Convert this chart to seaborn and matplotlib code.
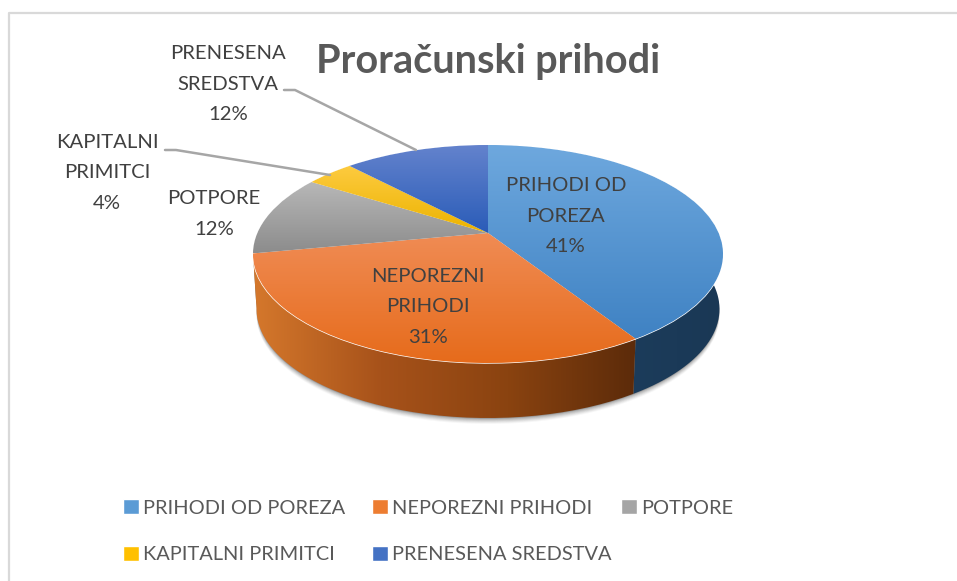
import numpy as np
import seaborn as sns
import matplotlib.pyplot as plt
from matplotlib.colors import LinearSegmentedColormap
from matplotlib.patches import Patch
from matplotlib.path import Path
from matplotlib.transforms import Affine2D, Transform

categories = ['PRIHODI OD POREZA', 'NEPOREZNI PRIHODI', 'POTPORE', 'KAPITALNI PRIMITCI', 'PRENESENA SREDSTVA']
shares = [41, 31, 12, 4, 12]
title = 'Proračunski prihodi'
slice_labels = ['PRIHODI OD\nPOREZA\n41%', 'NEPOREZNI\nPRIHODI\n31%', 'POTPORE\n12%',
                'KAPITALNI\nPRIMITCI\n4%', 'PRENESENA\nSREDSTVA\n12%']

# styling
base_colors = ['#5B9BD5', '#ED7D31', '#A5A5A5', '#FFC000', '#4472C4']
top_grads = [('#6ea8de', '#3f82c3'), ('#f08c55', '#e66b1b'), ('#b8b8b8', '#8c8c8c'),
             ('#fdcb40', '#ecb300'), ('#6483cd', '#2a5cb8')]
wall_grads = [('#1f4264', '#1a3855'), ('#d5782c', '#a7521a', '#8a4310', '#5c2b0a'),
              ('#6b6b6b', '#5a5a5a'), ('#9a7400', '#8a6800'), ('#2a4a85', '#234070')]
label_pos = [(566, 216), (428, 307), (214, 214), (107, 173), (228, 84)]
W, H = 957, 581
DEPTH = 55
FOOT = 0.985  # bottom rim is a little narrower than the top one

sns.set_theme(style='white')
plt.rcParams['font.family'] = ['Lato', 'DejaVu Sans']


class Tilt(Transform):
    # perspective of the unit pie onto the page, pixel coordinates
    input_dims = 2
    output_dims = 2
    X0, APEX, K, A, C = 488.0, 233.0, 0.1927, -60.06, 230.6

    def transform_non_affine(self, values):
        u, v = np.asarray(values).T
        d = 1 + self.K * v
        return np.column_stack([self.X0 + self.C * u / d, (self.A * v + self.APEX) / d])


tilt = Tilt()


def arc(t1, t2):
    t = np.radians(np.linspace(t1, t2, 80))
    return tilt.transform_non_affine(np.column_stack([np.cos(t), np.sin(t)]))


def gradient(colors, box, clip, transform=None, horizontal=False):
    ramp = np.linspace(0, 1, 256).reshape(1, -1) if horizontal else np.linspace(0, 1, 256).reshape(-1, 1)
    cmap = LinearSegmentedColormap.from_list('g', colors)
    im = ax.imshow(ramp, cmap=cmap, extent=box, origin='upper', aspect='auto', zorder=clip_z[0])
    if transform is None:
        im.set_clip_path(clip)
    else:
        im.set_clip_path(clip, transform=transform)
    clip_z[0] += 0.01
    return im


fig = plt.figure(figsize=(W / 100, H / 100), dpi=100)
ax = fig.add_axes([0, 0, 1, 1])

# soft shadow under the pie
for d, a in zip([61, 60, 59, 58, 57, 56], [0.03, 0.05, 0.07, 0.09, 0.12, 0.15]):
    shade, _ = ax.pie([1], colors=['#000000'], startangle=90)
    squeeze = Affine2D().translate(-Tilt.X0, 0).scale(FOOT, 1).translate(Tilt.X0, d)
    shade[0].set_transform(tilt + squeeze + ax.transData)
    shade[0].set_alpha(a)
    shade[0].set_zorder(1)

wedges, _ = ax.pie(shares, colors=sns.color_palette(base_colors), startangle=90, counterclock=False)

clip_z = [2.0]
# side walls: far slices first, so the two front slices end on top
for i in [2, 3, 4, 0, 1]:
    rim = arc(wedges[i].theta1, wedges[i].theta2)
    low = rim + [0, DEPTH]
    low[:, 0] = Tilt.X0 + (low[:, 0] - Tilt.X0) * FOOT
    wall = Path(np.vstack([rim, low[::-1], rim[:1]]))
    gradient(wall_grads[i], (min(low[:, 0].min(), rim[:, 0].min()), rim[:, 0].max(), H, 0), wall,
             ax.transData, horizontal=True)

# top faces
clip_z[0] = 3.0
for i, w in enumerate(wedges):
    w.set_transform(tilt + ax.transData)
    w.set_zorder(3)
    pts = np.vstack([arc(w.theta1, w.theta2), [[Tilt.X0, Tilt.APEX]]])
    gradient(top_grads[i], (0, W, pts[:, 1].max(), pts[:, 1].min()), w)

for text, (x, y) in zip(slice_labels, label_pos):
    ax.text(x, y, text, ha='center', va='center', fontsize=14.6, color='#404040',
            linespacing=1.95, zorder=6)

ax.text(488.5, 62, title, ha='center', va='center', fontsize=28.5, fontweight='bold',
        color='#595959', zorder=6)

# leader lines
ax.plot([284, 295, 416], [90, 90, 150], color='#a6a6a6', lw=1.8, zorder=5)
ax.plot([165, 176, 330], [150, 150, 175], color='#a6a6a6', lw=1.8, zorder=5)

# chart frame, cut by the screenshot on the right and bottom
ax.plot([8.5, 8.5, W], [H, 12.5, 12.5], color='#d9d9d9', lw=1.6, zorder=5)

handles = [Patch(facecolor=c, label=n) for c, n in zip(base_colors, categories)]
legend_style = dict(frameon=False, loc='upper left', borderaxespad=0, borderpad=0, fontsize=14.4,
                    labelcolor='#595959', handlelength=0.8, handleheight=0.8, handletextpad=0.22,
                    labelspacing=1.45)
order = [0, 3, 1, 4]
# the third column sits closer than matplotlib's even spacing, so it is its own legend
left_legend = ax.legend([handles[i] for i in order], [categories[i] for i in order], ncol=2,
                        columnspacing=1.3, bbox_to_anchor=(123 / W, 1 - 499 / H), **legend_style)
ax.add_artist(left_legend)
ax.legend([handles[2]], [categories[2]], bbox_to_anchor=(621 / W, 1 - 499 / H), **legend_style)

ax.set_aspect('auto')
ax.set_xlim(0, W)
ax.set_ylim(H, 0)
ax.set_axis_off()

fig.savefig('out.png', dpi=100)
